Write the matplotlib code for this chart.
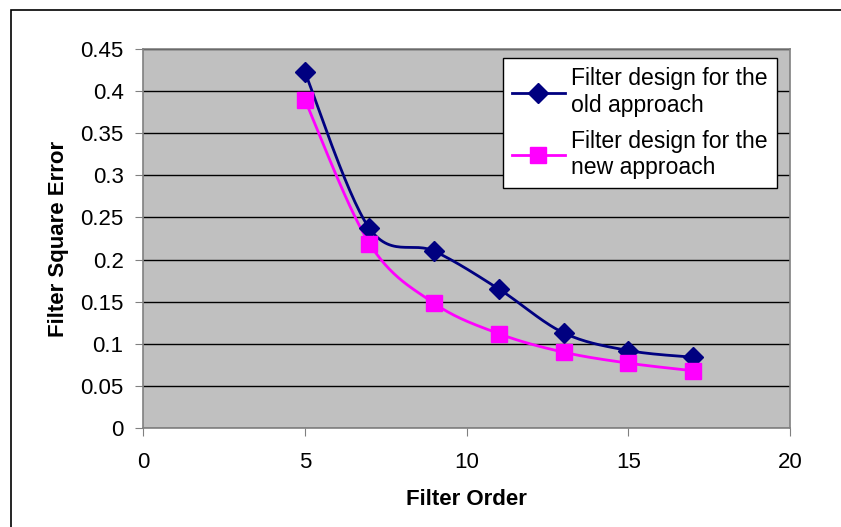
import numpy as np
import matplotlib
matplotlib.use('Agg')
import matplotlib.pyplot as plt
from matplotlib.patches import Rectangle

plt.rcParams['font.family'] = ['Liberation Sans', 'DejaVu Sans']

# data
filter_order = [5, 7, 9, 11, 13, 15, 17]
old_error = [0.423, 0.237, 0.210, 0.165, 0.113, 0.092, 0.084]
new_error = [0.390, 0.219, 0.148, 0.112, 0.090, 0.077, 0.068]

old_label = 'Filter design for the\nold approach'
new_label = 'Filter design for the\nnew approach'


def smooth(xs, ys, n=30):
    """Excel-style smoothed line (Catmull-Rom Bezier segments)."""
    p = np.column_stack([xs, ys]).astype(float)
    pts = np.vstack([p[0], p, p[-1]])
    out = []
    t = np.linspace(0, 1, n)[:, None]
    for i in range(1, len(pts) - 2):
        p0, p3 = pts[i], pts[i + 1]
        c1 = p0 + (pts[i + 1] - pts[i - 1]) / 6
        c2 = p3 - (pts[i + 2] - pts[i]) / 6
        seg = ((1 - t) ** 3) * p0 + 3 * ((1 - t) ** 2) * t * c1 \
            + 3 * (1 - t) * t ** 2 * c2 + t ** 3 * p3
        out.append(seg if i == 1 else seg[1:])
    seg = np.vstack(out)
    return seg[:, 0], seg[:, 1]


fig = plt.figure(figsize=(8.41, 5.27), dpi=100)
# outer chart frame (only left/top edges visible in the picture)
fig.patches.append(Rectangle((11 / 841, -0.1), 1.2, (527 - 10) / 527 + 0.1,
                             transform=fig.transFigure, fill=False,
                             ec='black', lw=1.2))

ax = fig.add_axes([143 / 841, 99 / 527, 647 / 841, 379 / 527])
ax.set_facecolor('#C0C0C0')

xs, ys = smooth(filter_order, old_error)
ax.plot(xs, ys, color='#000080', lw=2, zorder=3)
xs, ys = smooth(filter_order, new_error)
ax.plot(xs, ys, color='#FF00FF', lw=2, zorder=3)
ax.plot(filter_order, old_error, ls='none', marker='D', ms=10,
        color='#000080', zorder=4)
ax.plot(filter_order, new_error, ls='none', marker='s', ms=11,
        color='#FF00FF', zorder=4)

# legend handles
h_old, = ax.plot([], [], color='#000080', lw=2, marker='D', ms=10)
h_new, = ax.plot([], [], color='#FF00FF', lw=2, marker='s', ms=11)
leg = ax.legend([h_old, h_new], [old_label, new_label],
                loc='upper right', bbox_to_anchor=(0.98, 0.976),
                fontsize=16.6, frameon=True, fancybox=False, framealpha=1,
                edgecolor='black', handlelength=2.3, handletextpad=0.27,
                borderpad=0.4, labelspacing=0.55, borderaxespad=0)
leg.get_frame().set_linewidth(1.0)

ax.set_xlim(0, 20)
ax.set_ylim(0, 0.45)
ax.set_xticks([0, 5, 10, 15, 20])
ax.set_xticklabels(['0', '5', '10', '15', '20'])
ax.set_yticks(np.arange(0, 0.451, 0.05))
ax.set_yticklabels(['0', '0.05', '0.1', '0.15', '0.2', '0.25', '0.3',
                    '0.35', '0.4', '0.45'])
ax.yaxis.grid(True, color='black', lw=1)
ax.set_axisbelow(True)
for s in ax.spines.values():
    s.set_color('#808080')
    s.set_linewidth(1.2)
ax.tick_params(axis='both', direction='out', length=6, color='#808080',
               labelsize=16)
ax.tick_params(axis='x', pad=11)
ax.tick_params(axis='y', pad=8)

ax.set_xlabel('Filter Order', fontsize=16, fontweight='bold', labelpad=12)
ax.set_ylabel('Filter Square Error', fontsize=16, fontweight='bold',
              labelpad=8)

plt.savefig('out.png', dpi=100)
plt.close(fig)
